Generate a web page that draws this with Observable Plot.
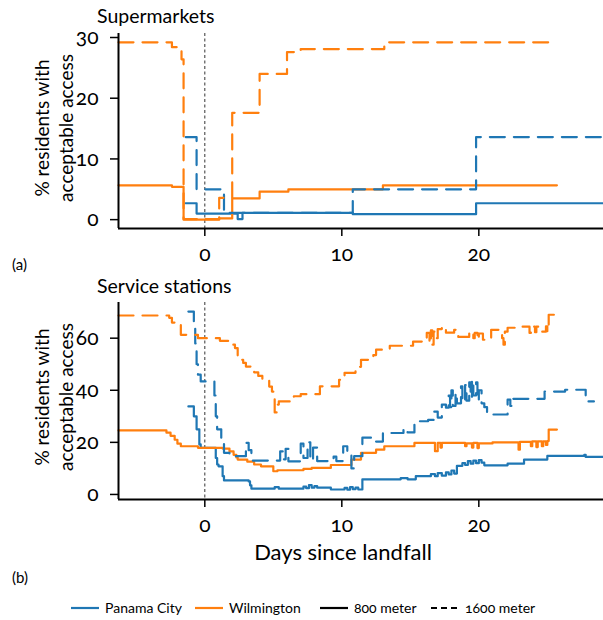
<!DOCTYPE html>
<html>
<head>
<meta charset="utf-8">
<script src="https://cdn.jsdelivr.net/npm/d3@7"></script>
<script src="https://cdn.jsdelivr.net/npm/@observablehq/plot@0.6"></script>
<style>
  html, body { margin: 0; padding: 0; background: #fff; }
  #root { position: relative; width: 603px; height: 620px; overflow: hidden;
          font-family: Lato, "Open Sans", sans-serif; color: #000;
          font-variant-numeric: oldstyle-nums; }
  .abs { position: absolute; white-space: nowrap; }
  .ylab { position: absolute; white-space: nowrap; font-size: 19px;
          transform: translate(-50%, -50%) rotate(-90deg); }
  .title { font-size: 19.5px; }
  .tag { font-size: 15px; }
  svg text { font-variant-numeric: oldstyle-nums; }
</style>
</head>
<body>
<div id="root"></div>
<script>
// ---------- data ----------
const xDomain = [-6.3, 29.1];
const xTicks = [0, 10, 20];
const yDomainA = [-1.46, 30.66];
const yTicksA = [0, 10, 20, 30];
const yDomainB = [-1.94, 73.7];
const yTicksB = [0, 20, 40, 60];
const landfallDay = [0];

const cities = ["Panama City", "Wilmington"];
const cityColors = ["#1f77b4", "#ff7f0e"];
const distances = ["800 meter", "1600 meter"];

// Supermarkets: [day, % residents]
const supPanama800 = [[-1.4, 2.7], [-0.6, 1.0], [2.4, 0.1], [2.75, 1.1], [10.8, 0.9], [19.8, 2.7], [29.1, 2.7]];
const supPanama1600 = [[-1.4, 13.6], [-0.6, 5.0], [1.4, 1.1], [10.8, 5.0], [19.8, 13.6], [29.1, 13.6]];
const supWilm800 = [[-6.3, 5.65], [-2.4, 5.4], [-1.55, 0.0], [1.05, 0.2], [2.0, 3.5], [4.0, 4.6], [6.1, 5.0], [13.0, 5.65], [25.7, 5.65]];
const supWilm1600 = [[-6.3, 29.2], [-2.4, 28.4], [-1.7, 26.4], [-1.55, 0.1], [1.05, 3.6], [2.0, 17.6], [4.0, 24.0], [6.0, 27.6], [7.0, 28.1], [13.1, 29.2], [25.7, 29.2]];

// Service stations: [day, % residents]
const ssPanama800 = [[-1.2, 33.8], [-0.8, 30], [-0.6, 25], [-0.4, 19.2], [-0.3, 17.9], [0.8, 14], [0.9, 11.5], [1.0, 10.8], [1.3, 7], [1.4, 5.4], [3.2, 5.0], [3.3, 3.5], [3.4, 2.2], [5.1, 2.8], [5.4, 2.2], [7.2, 3.0], [7.4, 2.4], [7.6, 3.6], [7.8, 2.6], [8.0, 3.2], [8.2, 2.6], [9.2, 1.9], [10.2, 2.5], [10.4, 1.8], [10.6, 2.8], [10.8, 2.0], [11.0, 2.6], [11.2, 1.9], [11.5, 5.8], [14.3, 6.3], [14.8, 5.8], [15.4, 7.0], [16.5, 7.8], [16.8, 7.0], [17.0, 8.2], [17.3, 7.2], [17.6, 8.5], [17.8, 7.7], [18.0, 9.2], [18.2, 8.0], [18.4, 11.0], [18.8, 12.0], [19.0, 11.3], [19.2, 12.8], [19.4, 11.8], [19.6, 13.0], [19.8, 12.0], [20.0, 13.2], [20.2, 12.2], [20.4, 11.2], [22.1, 11.8], [23.3, 13.4], [25.0, 14.8], [27.7, 15.2], [27.8, 14.4], [29.1, 14.4]];
const ssPanama1600 = [[-1.2, 70.2], [-0.8, 66], [-0.7, 58], [-0.6, 50], [-0.5, 46], [-0.3, 43.4], [0.7, 38], [0.8, 30], [0.9, 25], [1.2, 20], [1.4, 16], [1.8, 14.7], [3.0, 19.8], [3.2, 17], [3.4, 13.0], [5.5, 16.5], [5.7, 13.5], [5.9, 17.5], [6.1, 12.7], [7.0, 19.5], [7.2, 14], [7.5, 20], [7.7, 13], [7.9, 18], [8.2, 12.8], [9.4, 14.5], [9.6, 12.8], [10.1, 18.5], [10.4, 15.5], [10.7, 10], [10.9, 14.7], [11.5, 21.8], [12.3, 20.3], [13.0, 23.6], [14.5, 25.3], [14.8, 23.8], [15.3, 28.1], [16.3, 28.6], [16.7, 31.8], [17.0, 29.5], [17.3, 34.5], [17.6, 33.3], [17.8, 38], [17.9, 33.5], [18.0, 40], [18.1, 34], [18.3, 39], [18.4, 35], [18.7, 41.5], [18.8, 35.5], [19.0, 42], [19.1, 36], [19.3, 43], [19.4, 37], [19.5, 44], [19.6, 38], [19.8, 43], [19.9, 36], [20.0, 40], [20.2, 35], [20.4, 33.5], [20.6, 30.7], [22.1, 36.4], [22.3, 34], [22.5, 36.7], [24.8, 39.5], [26.3, 40.2], [27.8, 37.5], [28.0, 35.7], [28.4, 35.7]];
const ssWilm800 = [[-6.3, 24.6], [-2.8, 23.7], [-2.5, 22.5], [-2.2, 21], [-2.0, 19.5], [-1.75, 18.5], [-0.5, 17.9], [1.3, 17.6], [1.8, 16.5], [2.1, 15.2], [2.3, 14.2], [2.4, 13.4], [3.1, 12.6], [3.6, 11.5], [4.1, 10.8], [5.0, 8.9], [5.3, 9.3], [7.2, 9.8], [7.8, 10.2], [9.2, 11.3], [10.7, 13.4], [11.4, 16.0], [12.5, 17.2], [13.1, 18.5], [15.3, 19.8], [16.8, 16.6], [17.0, 19.8], [17.2, 18.0], [17.3, 19.8], [19.0, 18.5], [19.1, 19.6], [19.5, 18.0], [19.6, 19.8], [19.9, 17.8], [20.0, 19.6], [21.0, 20.0], [22.9, 17.2], [23.0, 20.2], [23.8, 18.5], [23.9, 20.4], [24.2, 18.2], [24.3, 20.4], [24.6, 18.5], [24.7, 20.4], [24.9, 19.0], [25.0, 20.5], [25.1, 24.9], [25.7, 24.9]];
const ssWilm1600 = [[-6.3, 68.7], [-2.6, 67.8], [-2.4, 66], [-2.1, 65.1], [-1.75, 61.3], [-0.5, 60.0], [1.1, 59], [1.7, 58.7], [2.0, 57.5], [2.2, 56.2], [2.4, 51.7], [2.8, 50.5], [3.0, 49.1], [3.6, 46.9], [3.9, 45.5], [4.2, 44.1], [4.7, 41.4], [4.9, 39.5], [5.0, 37.5], [5.1, 31.5], [5.3, 34.5], [5.4, 35.7], [6.5, 37.7], [7.0, 38.5], [8.4, 41.5], [9.8, 44], [10.2, 46.7], [11.0, 49], [11.4, 51.7], [12.3, 53.5], [12.5, 55.6], [13.5, 57.1], [15.2, 58.7], [16.2, 62], [16.4, 58], [16.5, 63], [16.6, 57.5], [16.7, 62.5], [16.9, 60], [17.0, 63.5], [17.3, 64.4], [17.6, 62.1], [18.2, 63.2], [18.5, 60.5], [19.3, 62.5], [19.6, 60.0], [19.7, 62], [19.9, 59.4], [20.0, 61.8], [20.3, 59.4], [20.9, 63.2], [21.7, 60.0], [21.8, 57.5], [21.9, 62.5], [22.1, 64.0], [23.1, 64.4], [23.7, 62.0], [23.8, 64.4], [24.1, 62.3], [24.2, 64.4], [24.5, 62.5], [24.9, 64.5], [25.0, 62.5], [25.1, 69.0], [25.7, 69.0]];

// ---------- drawing ----------
const DASH = "15,9";
const TICK_FONT = 21;
const root = document.getElementById("root");

function panel(top, height, mTop, mBottom, yDomain, yTicks, series) {
  const lines = series.map(s => Plot.line(s.data, {
    x: d => d[0], y: d => d[1], curve: "step-after",
    stroke: s.color, strokeWidth: 2.2,
    strokeDasharray: s.dashed ? DASH : null
  }));
  const svg = Plot.plot({
    width: 603, height,
    marginLeft: 118, marginRight: 0, marginTop: mTop, marginBottom: mBottom,
    style: { fontFamily: "Lato, 'Open Sans', sans-serif", fontSize: TICK_FONT + "px", color: "#000", background: "transparent", overflow: "visible" },
    x: { domain: xDomain },
    y: { domain: yDomain },
    marks: [
      Plot.ruleX(landfallDay, { stroke: "#333", strokeWidth: 1, strokeDasharray: "3,2.5" }),
      ...lines,
      Plot.ruleX([xDomain[0]], { stroke: "#000", strokeWidth: 2 }),
      Plot.ruleY([yDomain[0]], { stroke: "#000", strokeWidth: 2 }),
      Plot.axisX({ ticks: xTicks, tickSize: 8, tickPadding: 10, strokeWidth: 1.5, label: null, fontSize: TICK_FONT }),
      Plot.axisY({ ticks: yTicks, tickSize: 8, tickPadding: 12, strokeWidth: 1.5, label: null, fontSize: TICK_FONT })
    ]
  });
  svg.style.position = "absolute";
  svg.style.left = "0px";
  svg.style.top = top + "px";
  root.appendChild(svg);
}

panel(0, 270, 33, 42, yDomainA, yTicksA, [
  { data: supPanama800, color: cityColors[0], dashed: false },
  { data: supWilm800, color: cityColors[1], dashed: false },
  { data: supPanama1600, color: cityColors[0], dashed: true },
  { data: supWilm1600, color: cityColors[1], dashed: true }
]);
panel(270, 270, 32, 41, yDomainB, yTicksB, [
  { data: ssPanama800, color: cityColors[0], dashed: false },
  { data: ssWilm800, color: cityColors[1], dashed: false },
  { data: ssPanama1600, color: cityColors[0], dashed: true },
  { data: ssWilm1600, color: cityColors[1], dashed: true }
]);

function addText(txt, cls, left, top, extra) {
  const d = document.createElement("div");
  d.className = cls;
  d.textContent = txt;
  d.style.left = left + "px";
  d.style.top = top + "px";
  if (extra) Object.assign(d.style, extra);
  root.appendChild(d);
  return d;
}
addText("Supermarkets", "abs title", 97, 4);
addText("Service stations", "abs title", 97, 274);
addText("(a)", "abs tag", 12, 255);
addText("(b)", "abs tag", 12, 568);
addText("Days since landfall", "abs", 0, 538, { width: "686px", textAlign: "center", fontSize: "22px" });
addText("% residents with", "ylab", 41, 128);
addText("acceptable access", "ylab", 65, 128);
addText("% residents with", "ylab", 41, 397);
addText("acceptable access", "ylab", 65, 397);

// legend
const leg = d3.select(root).append("svg")
  .attr("width", 603).attr("height", 30)
  .style("position", "absolute").style("left", "0px").style("top", "593px")
  .style("font-family", "Lato, 'Open Sans', sans-serif").style("font-size", "14px");
const items = [
  { label: cities[0], color: cityColors[0], dash: null, x: 71 },
  { label: cities[1], color: cityColors[1], dash: null, x: 195 },
  { label: distances[0], color: "#000", dash: null, x: 320 },
  { label: distances[1], color: "#000", dash: "6,4", x: 431 }
];
items.forEach(it => {
  leg.append("line").attr("x1", it.x).attr("x2", it.x + 28).attr("y1", 15).attr("y2", 15)
    .attr("stroke", it.color).attr("stroke-width", 2.2).attr("stroke-dasharray", it.dash);
  leg.append("text").attr("x", it.x + 34).attr("y", 15).attr("dy", "0.35em").text(it.label);
});
</script>
</body>
</html>
